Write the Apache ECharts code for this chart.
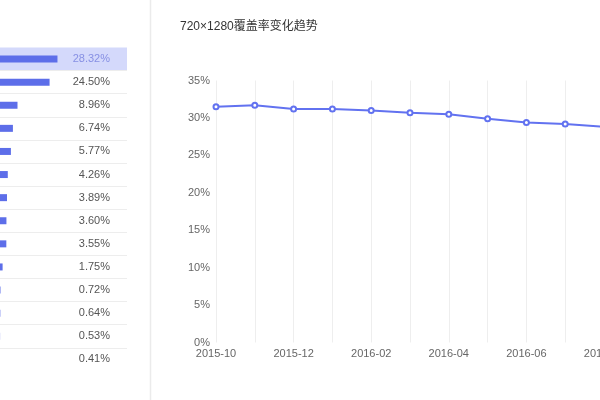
<!DOCTYPE html>
<html>
<head>
<meta charset="utf-8">
<script src="https://cdn.jsdelivr.net/npm/echarts@6/dist/echarts.min.js"></script>
<style>
html,body{margin:0;padding:0;background:#fff;}
#chart{width:600px;height:400px;}
</style>
</head>
<body>
<div id="chart"></div>
<script>
// Left panel: resolution share (names cropped off in the reference)
var resolutions = ['720×1280','1080×1920','480×854','540×960','480×800','1440×2560','768×1280','800×1280','320×480','600×1024','1200×1920','1536×2048','720×1184','1080×1776'];
var shares = [28.32, 24.50, 8.96, 6.74, 5.77, 4.26, 3.89, 3.60, 3.55, 1.75, 0.72, 0.64, 0.53, 0.41];

// Right panel: 720×1280 coverage trend
var months = ['2015-10','2015-11','2015-12','2016-01','2016-02','2016-03','2016-04','2016-05','2016-06','2016-07','2016-08'];
var coverage = [31.5, 31.7, 31.2, 31.2, 31.0, 30.7, 30.5, 29.9, 29.4, 29.2, 28.8];
var yTicks = {min: 0, max: 35, interval: 5};

var font = '"Liberation Sans", "Noto Sans CJK SC", sans-serif';
var blue = '#5d6ee9';

var shareLabels = shares.map(function (v, i) {
  return i === 0 ? {value: v.toFixed(2) + '%', textStyle: {color: '#8790e4'}} : v.toFixed(2) + '%';
});
var areaColors = ['#d4d9fb'];
for (var i = 1; i < shares.length; i++) areaColors.push('rgba(0,0,0,0)');

var chart = echarts.init(document.getElementById('chart'), null, {renderer: 'canvas'});
chart.setOption({
  animation: false,
  textStyle: {fontFamily: font},
  title: {
    text: '720×1280覆盖率变化趋势',
    left: 175, top: 16,
    textStyle: {fontSize: 12, fontWeight: 'normal', color: '#333', fontFamily: font}
  },
  graphic: [{
    type: 'line', silent: true,
    shape: {x1: 150.5, y1: 0, x2: 150.5, y2: 400},
    style: {stroke: '#ebebeb', lineWidth: 1.5}
  }],
  grid: [
    {left: -1, width: 128, top: 47.5, height: 323.4, containLabel: false, outerBoundsMode: 'none'},
    {left: 216, right: -4, top: 80.5, bottom: 57.5, containLabel: false, outerBoundsMode: 'none'}
  ],
  xAxis: [
    {gridIndex: 0, type: 'value', min: 0, max: 62, show: false},
    {
      gridIndex: 1, type: 'category', data: months, boundaryGap: false,
      axisLine: {show: false}, axisTick: {show: false},
      axisLabel: {interval: 1, color: '#666', fontSize: 11, margin: 6, fontFamily: font},
      splitLine: {show: true, interval: 0, lineStyle: {color: '#eeeeee', width: 1}}
    }
  ],
  yAxis: [
    {
      gridIndex: 0, type: 'category', data: resolutions, inverse: true,
      axisLine: {show: false}, axisTick: {show: false}, axisLabel: {show: false},
      splitLine: {show: true, showMinLine: false, showMaxLine: false, lineStyle: {color: '#ededed'}},
      splitArea: {show: true, areaStyle: {color: areaColors}}
    },
    {
      gridIndex: 0, type: 'category', data: shareLabels, inverse: true, position: 'right',
      axisLine: {show: false}, axisTick: {show: false},
      axisLabel: {inside: true, margin: 17, color: '#555', fontSize: 11, fontFamily: font},
      splitLine: {show: false}
    },
    {
      gridIndex: 1, type: 'value', min: yTicks.min, max: yTicks.max, interval: yTicks.interval,
      axisLine: {show: false}, axisTick: {show: false}, splitLine: {show: false},
      axisLabel: {formatter: '{value}%', color: '#666', fontSize: 11, margin: 6, fontFamily: font}
    }
  ],
  series: [
    {
      type: 'bar', xAxisIndex: 0, yAxisIndex: 0, data: shares,
      barWidth: 7, itemStyle: {color: blue}
    },
    {
      type: 'line', xAxisIndex: 1, yAxisIndex: 2, data: coverage,
      symbol: 'emptyCircle', symbolSize: 5,
      lineStyle: {color: '#6272f0', width: 2},
      itemStyle: {color: '#6272f0', borderWidth: 1.5}
    }
  ]
});
</script>
</body>
</html>
